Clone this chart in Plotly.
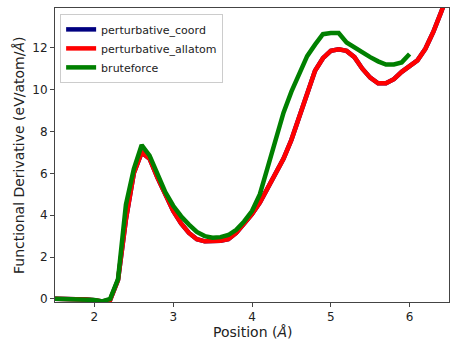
import plotly.graph_objects as go

# bruteforce curve, 0.1 A steps
x_brute = [round(1.5 + 0.1 * i, 1) for i in range(46)]
y_brute = [
    0.0, 0.0, 0.0, 0.0, -0.02, -0.05, -0.12, 0.0, 0.95, 4.5,
    6.2, 7.35, 6.85, 6.0, 5.1, 4.45, 3.95, 3.55, 3.2, 3.0,
    2.92, 2.95, 3.05, 3.3, 3.7, 4.2, 5.0, 6.3, 7.6, 8.9,
    9.9, 10.8, 11.6, 12.15, 12.65, 12.7, 12.7, 12.25, 12.0, 11.8,
    11.55, 11.35, 11.2, 11.2, 11.3, 11.7,
]

# perturbative curves (coord lies under allatom)
x_pert = [round(1.5 + 0.1 * i, 1) for i in range(51)]
y_allatom = [
    0.0, 0.0, 0.0, -0.02, -0.03, -0.06, -0.12, -0.05, 0.9, 3.8,
    6.0, 7.0, 6.7, 5.8, 4.95, 4.2, 3.6, 3.15, 2.85, 2.75,
    2.77, 2.78, 2.85, 3.15, 3.6, 4.05, 4.6, 5.3, 6.0, 6.7,
    7.6, 8.75, 9.9, 10.9, 11.5, 11.85, 11.93, 11.85, 11.55, 11.0,
    10.57, 10.3, 10.3, 10.5, 10.85, 11.1, 11.4, 11.95, 12.75, 13.7,
    14.7,
]
y_coord = list(y_allatom)

fig = go.Figure()
fig.add_trace(go.Scatter(x=x_pert, y=y_coord, mode="lines", name="perturbative_coord",
                         line=dict(color="#000080", width=4.5)))
fig.add_trace(go.Scatter(x=x_pert, y=y_allatom, mode="lines", name="perturbative_allatom",
                         line=dict(color="#ff0000", width=4.5)))
fig.add_trace(go.Scatter(x=x_brute, y=y_brute, mode="lines", name="bruteforce",
                         line=dict(color="#008000", width=4.5)))

axis_style = dict(
    showgrid=False,
    zeroline=False,
    showline=True,
    linecolor="#444444",
    linewidth=1,
    mirror=True,
    ticks="outside",
    ticklen=4,
    tickcolor="#444444",
    tickfont=dict(size=12, color="#222222"),
    automargin=False,
)

fig.update_layout(
    width=457,
    height=348,
    paper_bgcolor="white",
    plot_bgcolor="white",
    font=dict(family="DejaVu Sans", color="#222222"),
    margin=dict(l=55, r=8, t=8, b=46),
    xaxis=dict(axis_style, range=[1.5, 6.5], tickvals=[2, 3, 4, 5, 6]),
    yaxis=dict(axis_style, range=[-0.15, 13.9], tickvals=[0, 2, 4, 6, 8, 10, 12]),
    legend=dict(
        x=0.013,
        y=0.98,
        xanchor="left",
        yanchor="top",
        bgcolor="rgba(255,255,255,0.8)",
        bordercolor="#cccccc",
        borderwidth=1,
        font=dict(size=11),
        tracegroupgap=0,
    ),
    annotations=[
        dict(text="Position (<i>Å</i>)", xref="paper", yref="paper", x=0.5, y=0,
             yshift=-30, xanchor="center", yanchor="middle", showarrow=False,
             font=dict(size=14)),
        dict(text="Functional Derivative (eV/atom/<i>Å</i>)", xref="paper", yref="paper",
             x=0, y=0.5, xshift=-36, xanchor="center", yanchor="middle", textangle=-90,
             showarrow=False, font=dict(size=14)),
    ],
)

# drop the default page margin so the figure sits at the window's corner
fig.write_html(
    "out.html",
    config={"displayModeBar": False},
    post_script="document.body.style.margin = '0';",
)
